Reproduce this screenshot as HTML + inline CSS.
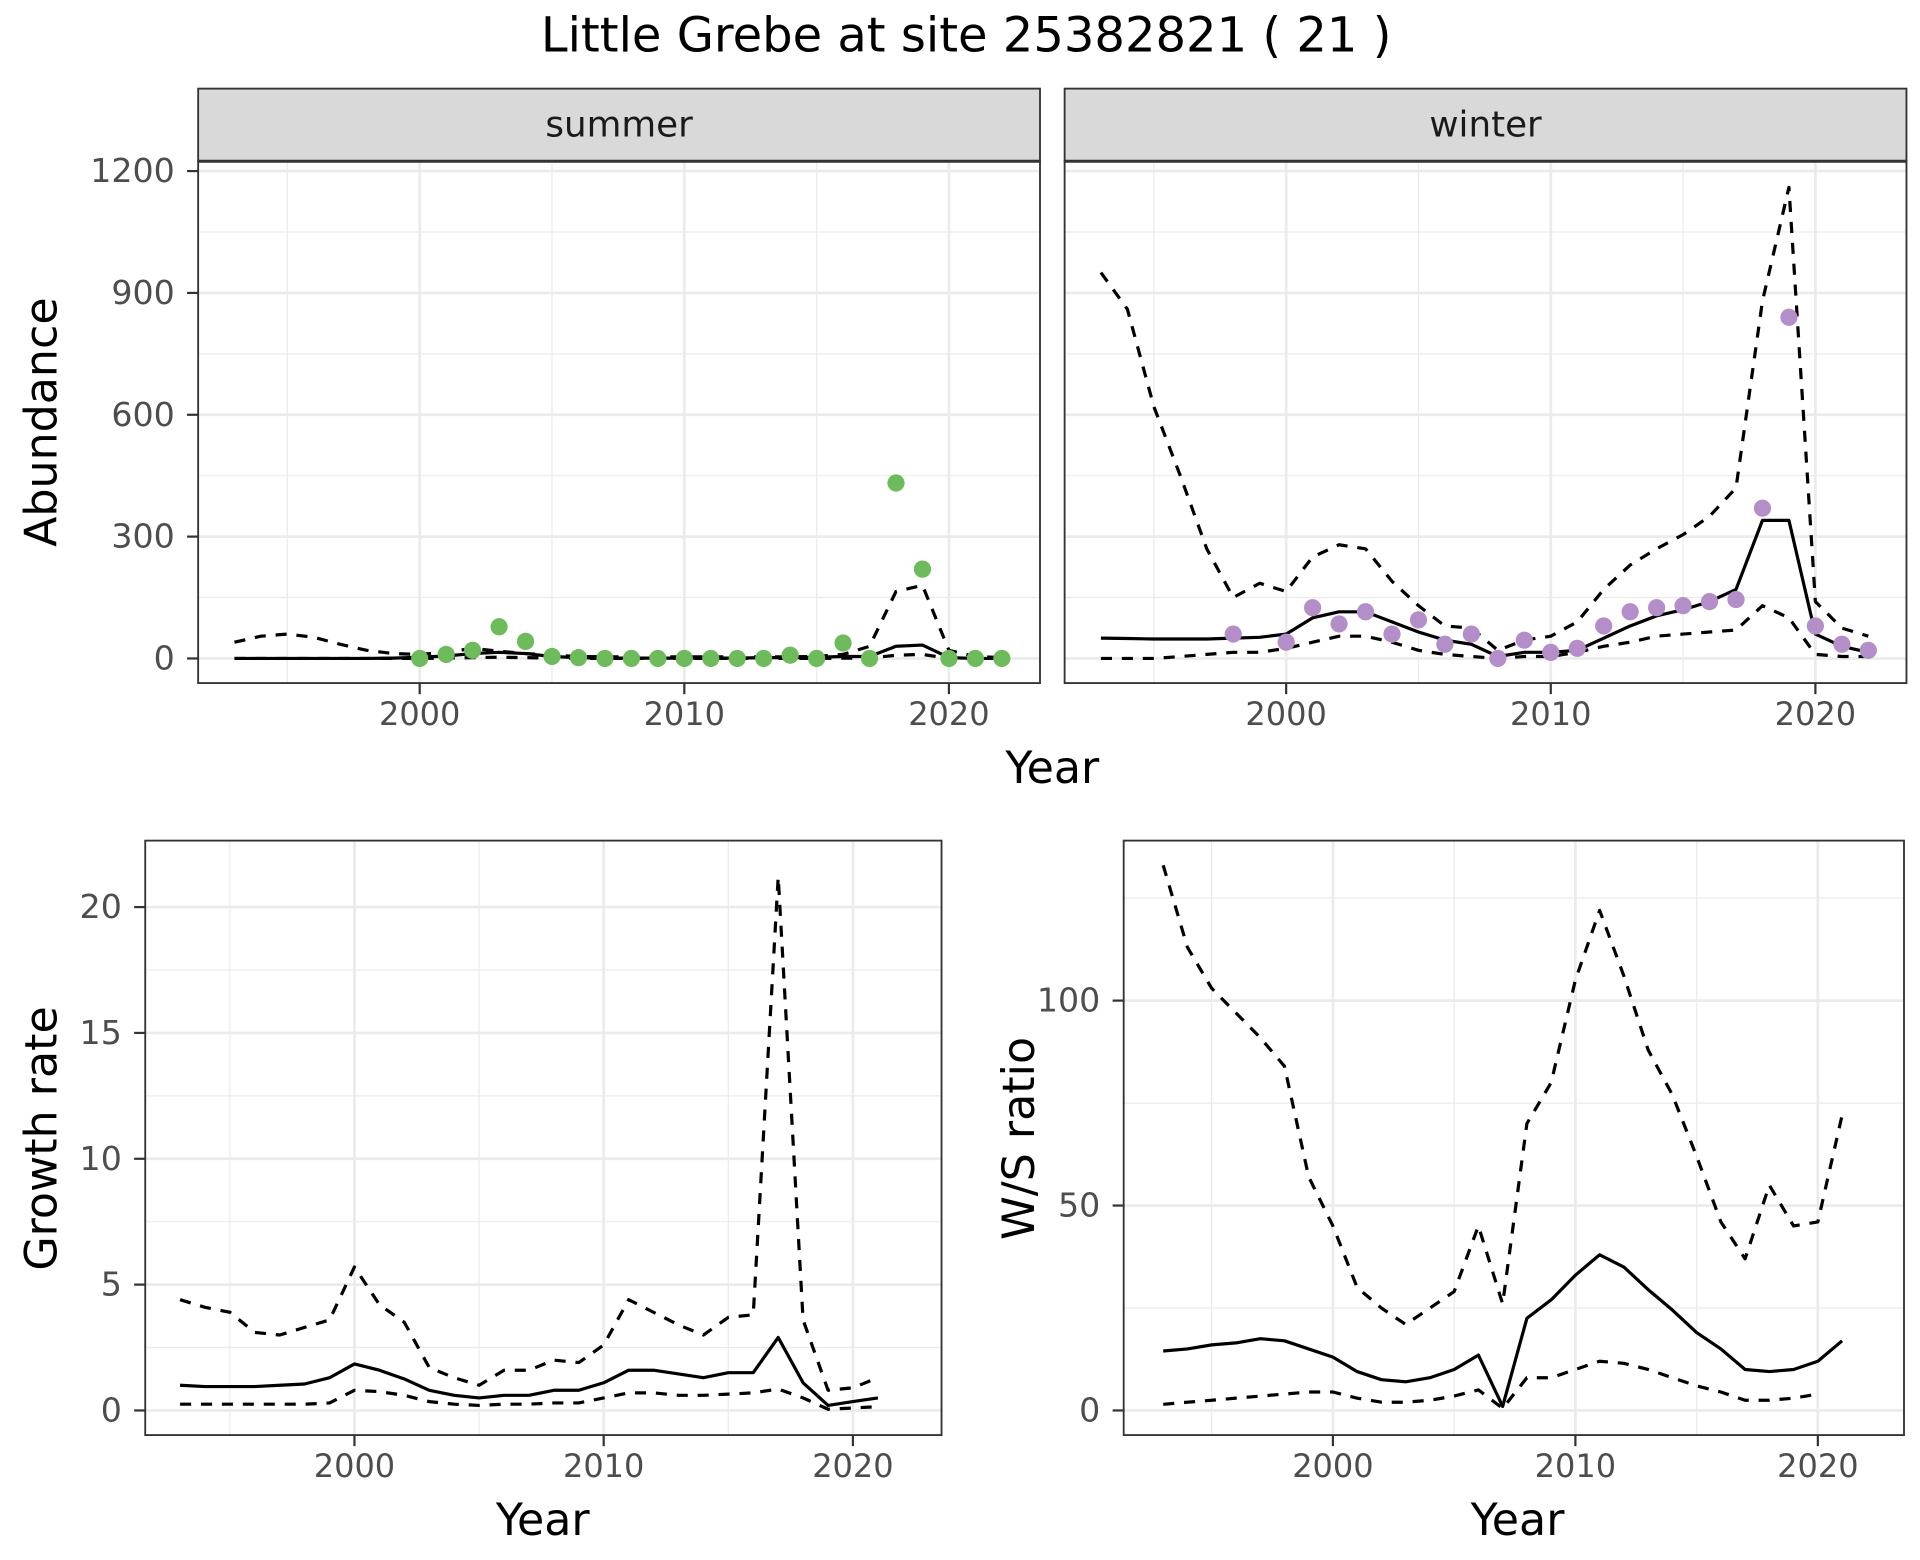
<!DOCTYPE html>
<html><head><meta charset="utf-8"><style>
html,body{margin:0;padding:0;background:#fff;}
svg{display:block;font-family:"DejaVu Sans","Liberation Sans",sans-serif;}
</style></head><body>
<svg id="c" width="1920" height="1560" viewBox="0 0 1560 1267.5" xmlns="http://www.w3.org/2000/svg">
<text x="785" y="42" font-size="39" text-anchor="middle" fill="#000">Little Grebe at site 25382821 ( 21 )</text>
</svg>
<script>
const yrs=[1993,1994,1995,1996,1997,1998,1999,2000,2001,2002,2003,2004,2005,2006,2007,2008,2009,2010,2011,2012,2013,2014,2015,2016,2017,2018,2019,2020,2021,2022];
const sumMean=[0,0,0,0,0,0,1,3,6,12,15,12,5,2,1,1,1,1,1,1,2,2,3,5,5,30,33,2,0,0];
const sumUp=[40,55,60,52,35,20,12,10,15,25,18,12,8,5,4,4,4,4,4,4,4,4,5,10,30,165,180,20,5,2];
const sumLo=[0,0,0,0,0,0,0,0,1,2,3,2,1,0,0,0,0,0,0,0,0,0,0,1,1,8,10,0,0,0];
const sumPtYrs=[2000,2001,2002,2003,2004,2005,2006,2007,2008,2009,2010,2011,2012,2013,2014,2015,2016,2017,2018,2019,2020,2021,2022];
const sumPts=[0,10,20,78,42,5,2,0,0,0,0,0,0,0,8,0,38,0,432,220,0,0,0];
const winMean=[50,49,48,48,48,50,52,60,100,115,115,90,65,45,35,5,15,15,20,50,80,105,120,140,170,340,340,60,30,15];
const winUp=[950,860,620,450,270,150,185,165,250,280,270,190,130,80,75,20,45,55,90,170,230,270,305,350,420,880,1160,140,75,55];
const winLo=[0,0,0,5,10,15,15,25,40,55,55,40,20,10,5,0,5,5,15,30,40,55,60,65,70,130,100,10,5,5];
const winPtYrs=[1998,2000,2001,2002,2003,2004,2005,2006,2007,2008,2009,2010,2011,2012,2013,2014,2015,2016,2017,2018,2019,2020,2021,2022];
const winPts=[60,40,125,85,115,60,95,35,60,0,45,15,25,80,115,125,130,140,145,370,840,80,35,20];
const grYrs=yrs.slice(0,29);
const grMean=[1.0,0.95,0.95,0.95,1.0,1.05,1.3,1.85,1.6,1.25,0.8,0.6,0.5,0.6,0.6,0.8,0.8,1.1,1.6,1.6,1.45,1.3,1.5,1.5,2.9,1.1,0.2,0.35,0.5];
const grUp=[4.4,4.1,3.9,3.1,3.0,3.3,3.6,5.7,4.2,3.5,1.7,1.3,1.0,1.6,1.6,2.0,1.9,2.6,4.4,3.9,3.4,3.0,3.7,3.8,21.2,3.6,0.8,0.9,1.3];
const grLo=[0.25,0.25,0.25,0.25,0.25,0.25,0.3,0.8,0.75,0.6,0.35,0.25,0.2,0.25,0.25,0.3,0.3,0.5,0.7,0.7,0.6,0.6,0.65,0.7,0.85,0.5,0.05,0.1,0.15];
const wsYrs=yrs.slice(0,29);
const wsMean=[14.5,15,16,16.5,17.5,17,15,13,9.5,7.5,7,8,10,13.5,1,22.5,27,33,38,35,29.5,24.5,19,15,10,9.5,10,12,17];
const wsUp=[133,113,103,97,91,84,57,45,30,25,21,25,29,45,26,70,80,105,122,106,88,77,62,46,37,55,45,46,72];
const wsLo=[1.5,2,2.5,3,3.5,4,4.5,4.5,3,2,2,2.5,3.5,5,0.5,8,8,10,12,11.5,10,8,6,4.5,2.5,2.5,3,4];
const abTicks=[0,300,600,900,1200];
const grTicks=[0,5,10,15,20];
const wsTicks=[0,50,100];
const xTicks=[2000,2010,2020];

const svg=document.getElementById('c');const NS='http://www.w3.org/2000/svg';
function mk(t,a,p){const e=document.createElementNS(NS,t);for(const k in a)e.setAttribute(k,a[k]);(p||svg).appendChild(e);return e;}
function panel(name,x0,x1,y0,y1,xs,ys,yTicks,minorY,showY){
  const g=mk('g',{});
  
  
  mk('rect',{x:x0,y:y0,width:x1-x0,height:y1-y0,fill:'#fff'},g);
  [1995,2005,2015].forEach(v=>mk('line',{x1:xs(v),x2:xs(v),y1:y0,y2:y1,stroke:'#ebebeb','stroke-width':1},g));
  minorY.forEach(v=>mk('line',{x1:x0,x2:x1,y1:ys(v),y2:ys(v),stroke:'#ebebeb','stroke-width':1},g));
  xTicks.forEach(v=>mk('line',{x1:xs(v),x2:xs(v),y1:y0,y2:y1,stroke:'#ebebeb','stroke-width':2.2},g));
  yTicks.forEach(v=>mk('line',{x1:x0,x2:x1,y1:ys(v),y2:ys(v),stroke:'#ebebeb','stroke-width':2.2},g));
  xTicks.forEach(v=>{mk('line',{x1:xs(v),x2:xs(v),y1:y1,y2:y1+9,stroke:'#333','stroke-width':1.8},g);
    const t=mk('text',{x:xs(v),y:y1+34,'font-size':26,'text-anchor':'middle',fill:'#4d4d4d'},g);t.textContent=v;
    });
  if(showY)yTicks.forEach(v=>{mk('line',{x1:x0-9,x2:x0,y1:ys(v),y2:ys(v),stroke:'#333','stroke-width':1.8},g);
    const t=mk('text',{x:x0-19,y:ys(v)+9,'font-size':27,'text-anchor':'end',fill:'#4d4d4d'},g);t.textContent=v;
    });
  return g;
}
function line(g,X,Y,xs,ys,dash,name){
  const p=mk('path',{d:X.map((x,i)=>(i?'L':'M')+xs(x).toFixed(1)+','+ys(Y[i]).toFixed(1)).join(''),fill:'none',stroke:'#000','stroke-width':2.6,'stroke-dasharray':dash?'9,8':'none','stroke-linejoin':'round'},g);
  
  
}
function pts(g,X,Y,xs,ys,col,name){X.forEach((x,i)=>{const c=mk('circle',{cx:xs(x),cy:ys(Y[i]),r:7,fill:col},g);
  
  });}
function border(g,x0,x1,y0,y1){mk('rect',{x:x0,y:y0,width:x1-x0,height:y1-y0,fill:'none',stroke:'#333','stroke-width':1.5},g);}
function strip(x0,x1,label){const s=mk('g',{});
  
  
  mk('rect',{x:x0,y:72,width:x1-x0,height:59,fill:'#d9d9d9',stroke:'#333','stroke-width':1.5},s);
  mk('line',{x1:x0,x2:x1,y1:131,y2:131,stroke:'#333','stroke-width':2.5},s);
  const t=mk('text',{x:(x0+x1)/2,y:111,'font-size':29,'text-anchor':'middle',fill:'#1a1a1a'},s);t.textContent=label;}

const abY=v=>535-v*0.33;
const sX=v=>341+(v-2000)*21.5, wX=v=>1045+(v-2000)*21.5;
const abMinor=[150,450,750,1050];
let g=panel('summer-panel',161,845,131,555,sX,abY,abTicks,abMinor,true);
line(g,yrs,sumUp,sX,abY,true,'summer-upper-ci');line(g,yrs,sumLo,sX,abY,true,'summer-lower-ci');line(g,yrs,sumMean,sX,abY,false,'summer-mean');
pts(g,sumPtYrs,sumPts,sX,abY,'#6dbb5a','summer-count-point');border(g,161,845,131,555);
g=panel('winter-panel',865,1549,131,555,wX,abY,abTicks,abMinor,false);
line(g,yrs,winUp,wX,abY,true,'winter-upper-ci');line(g,yrs,winLo,wX,abY,true,'winter-lower-ci');line(g,yrs,winMean,wX,abY,false,'winter-mean');
pts(g,winPtYrs,winPts,wX,abY,'#b48ec8','winter-count-point');border(g,865,1549,131,555);
strip(161,845,'summer');strip(865,1549,'winter');
let t=mk('text',{x:855,y:636,'font-size':36,'text-anchor':'middle'});t.textContent='Year';
t=mk('text',{x:0,y:0,'font-size':36,'text-anchor':'middle',transform:'translate(46,343) rotate(-90)'});t.textContent='Abundance';

const gX=v=>288+(v-2000)*20.25, gY=v=>1146-v*20.45;
g=panel('growth-rate-panel',118,765,683,1166,gX,gY,grTicks,[2.5,7.5,12.5,17.5],true);
line(g,grYrs,grUp,gX,gY,true,'growth-upper-ci');line(g,grYrs,grLo,gX,gY,true,'growth-lower-ci');line(g,grYrs,grMean,gX,gY,false,'growth-mean');
border(g,118,765,683,1166);
t=mk('text',{x:441,y:1247,'font-size':36,'text-anchor':'middle'});t.textContent='Year';
t=mk('text',{x:0,y:0,'font-size':36,'text-anchor':'middle',transform:'translate(46,925) rotate(-90)'});t.textContent='Growth rate';

const rX=v=>1083+(v-2000)*19.7, rY=v=>1146-v*3.33;
g=panel('ws-ratio-panel',913,1547,683,1166,rX,rY,wsTicks,[25,75,125],true);
line(g,wsYrs,wsUp,rX,rY,true,'ws-upper-ci');line(g,wsYrs.slice(0,28),wsLo,rX,rY,true,'ws-lower-ci');line(g,wsYrs,wsMean,rX,rY,false,'ws-mean');
border(g,913,1547,683,1166);
t=mk('text',{x:1233,y:1247,'font-size':36,'text-anchor':'middle'});t.textContent='Year';
t=mk('text',{x:0,y:0,'font-size':36,'text-anchor':'middle',transform:'translate(840,925) rotate(-90)'});t.textContent='W/S ratio';
</script>
</body></html>
